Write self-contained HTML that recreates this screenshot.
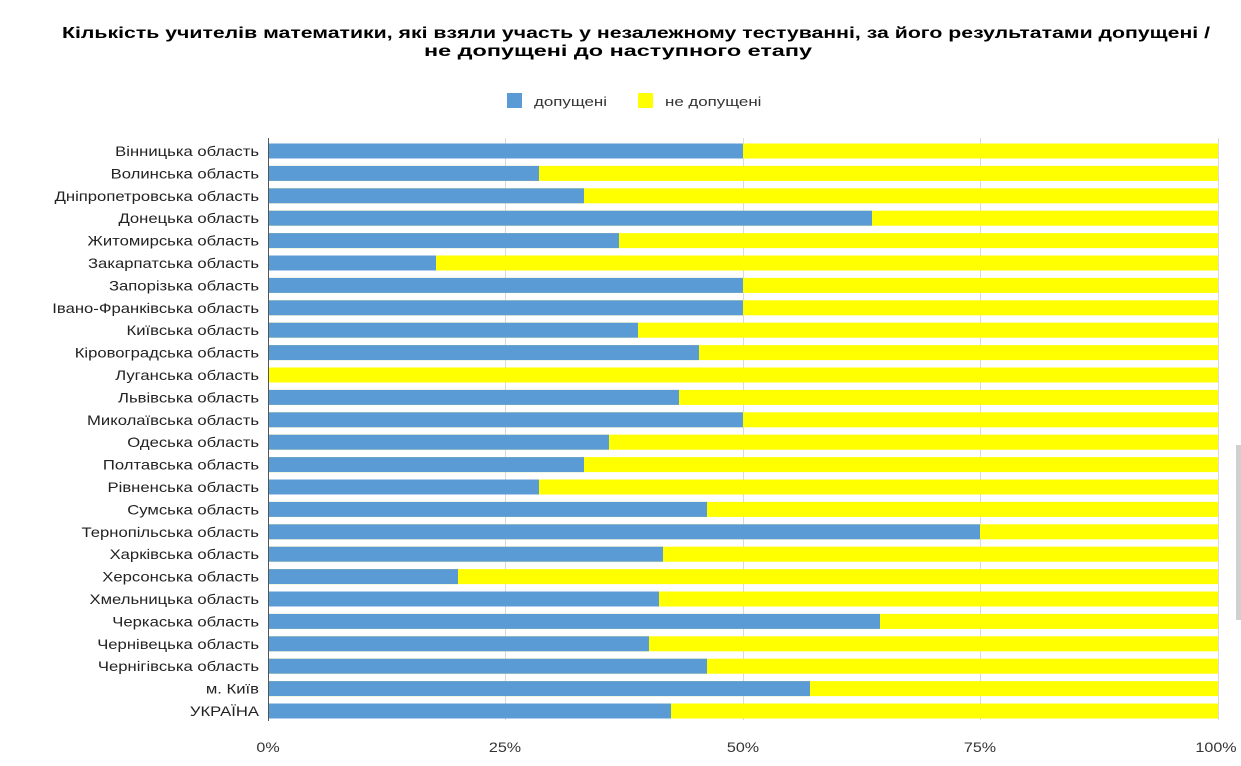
<!DOCTYPE html>
<html><head><meta charset="utf-8"><style>
html,body{margin:0;padding:0;background:#fff;}
svg{display:block;font-family:"Liberation Sans","DejaVu Sans",sans-serif;}
</style></head><body>
<svg width="1241" height="766" viewBox="0 0 1241 766" xmlns="http://www.w3.org/2000/svg">
<text x="636" y="38" text-anchor="middle" font-size="16" font-weight="bold" fill="#000" textLength="1148" lengthAdjust="spacingAndGlyphs">Кількість учителів математики, які взяли участь у незалежному тестуванні, за його результатами допущені /</text>
<text x="618" y="56" text-anchor="middle" font-size="16" font-weight="bold" fill="#000" textLength="388" lengthAdjust="spacingAndGlyphs">не допущені до наступного етапу</text>
<rect x="507" y="93" width="15" height="15" fill="#5b9bd5"/>
<g transform="translate(534,0) scale(1.3,1)"><text x="0" y="106" font-size="13" fill="#333">допущені</text></g>
<rect x="638" y="93" width="15" height="15" fill="#ffff00"/>
<g transform="translate(665,0) scale(1.3,1)"><text x="0" y="106" font-size="13" fill="#333">не допущені</text></g>
<g stroke="#d9d9d9" stroke-width="1">
<line x1="505.5" y1="138" x2="505.5" y2="720"/>
<line x1="743.5" y1="138" x2="743.5" y2="720"/>
<line x1="980.5" y1="138" x2="980.5" y2="720"/>
<line x1="1218.5" y1="138" x2="1218.5" y2="720"/>
</g>
<g fill="#ffff00">
<rect x="268" y="143.5" width="950" height="15"/><rect x="268" y="165.9" width="950" height="15"/><rect x="268" y="188.3" width="950" height="15"/><rect x="268" y="210.7" width="950" height="15"/><rect x="268" y="233.1" width="950" height="15"/><rect x="268" y="255.5" width="950" height="15"/><rect x="268" y="277.9" width="950" height="15"/><rect x="268" y="300.3" width="950" height="15"/><rect x="268" y="322.7" width="950" height="15"/><rect x="268" y="345.1" width="950" height="15"/><rect x="268" y="367.5" width="950" height="15"/><rect x="268" y="389.9" width="950" height="15"/><rect x="268" y="412.3" width="950" height="15"/><rect x="268" y="434.7" width="950" height="15"/><rect x="268" y="457.1" width="950" height="15"/><rect x="268" y="479.5" width="950" height="15"/><rect x="268" y="501.9" width="950" height="15"/><rect x="268" y="524.3" width="950" height="15"/><rect x="268" y="546.7" width="950" height="15"/><rect x="268" y="569.1" width="950" height="15"/><rect x="268" y="591.5" width="950" height="15"/><rect x="268" y="613.9" width="950" height="15"/><rect x="268" y="636.3" width="950" height="15"/><rect x="268" y="658.7" width="950" height="15"/><rect x="268" y="681.1" width="950" height="15"/><rect x="268" y="703.5" width="950" height="15"/>
</g>
<g fill="#5b9bd5">
<rect x="268" y="143.5" width="475" height="15"/><rect x="268" y="165.9" width="271" height="15"/><rect x="268" y="188.3" width="316" height="15"/><rect x="268" y="210.7" width="604" height="15"/><rect x="268" y="233.1" width="351" height="15"/><rect x="268" y="255.5" width="168" height="15"/><rect x="268" y="277.9" width="475" height="15"/><rect x="268" y="300.3" width="475" height="15"/><rect x="268" y="322.7" width="370" height="15"/><rect x="268" y="345.1" width="431" height="15"/><rect x="268" y="389.9" width="411" height="15"/><rect x="268" y="412.3" width="475" height="15"/><rect x="268" y="434.7" width="341" height="15"/><rect x="268" y="457.1" width="316" height="15"/><rect x="268" y="479.5" width="271" height="15"/><rect x="268" y="501.9" width="439" height="15"/><rect x="268" y="524.3" width="712" height="15"/><rect x="268" y="546.7" width="395" height="15"/><rect x="268" y="569.1" width="190" height="15"/><rect x="268" y="591.5" width="391" height="15"/><rect x="268" y="613.9" width="612" height="15"/><rect x="268" y="636.3" width="381" height="15"/><rect x="268" y="658.7" width="439" height="15"/><rect x="268" y="681.1" width="542" height="15"/><rect x="268" y="703.5" width="403" height="15"/>
</g>
<line x1="268.5" y1="138" x2="268.5" y2="721" stroke="#555" stroke-width="1"/>
<g transform="translate(259,0) scale(1.19,1)" font-size="14" fill="#222" text-anchor="end">
<text x="0" y="156">Вінницька область</text>
<text x="0" y="178.4">Волинська область</text>
<text x="0" y="200.8">Дніпропетровська область</text>
<text x="0" y="223.2">Донецька область</text>
<text x="0" y="245.6">Житомирська область</text>
<text x="0" y="268">Закарпатська область</text>
<text x="0" y="290.4">Запорізька область</text>
<text x="0" y="312.8">Івано-Франківська область</text>
<text x="0" y="335.2">Київська область</text>
<text x="0" y="357.6">Кіровоградська область</text>
<text x="0" y="380">Луганська область</text>
<text x="0" y="402.4">Львівська область</text>
<text x="0" y="424.8">Миколаївська область</text>
<text x="0" y="447.2">Одеська область</text>
<text x="0" y="469.6">Полтавська область</text>
<text x="0" y="492">Рівненська область</text>
<text x="0" y="514.4">Сумська область</text>
<text x="0" y="536.8">Тернопільська область</text>
<text x="0" y="559.2">Харківська область</text>
<text x="0" y="581.6">Херсонська область</text>
<text x="0" y="604">Хмельницька область</text>
<text x="0" y="626.4">Черкаська область</text>
<text x="0" y="648.8">Чернівецька область</text>
<text x="0" y="671.2">Чернігівська область</text>
<text x="0" y="693.6">м. Київ</text>
<text x="0" y="716">УКРАЇНА</text>
</g>
<g font-size="14" fill="#333" text-anchor="middle">
<g transform="translate(268,0) scale(1.15,1)"><text x="0" y="752">0%</text></g>
<g transform="translate(505,0) scale(1.15,1)"><text x="0" y="752">25%</text></g>
<g transform="translate(743,0) scale(1.15,1)"><text x="0" y="752">50%</text></g>
<g transform="translate(980,0) scale(1.15,1)"><text x="0" y="752">75%</text></g>
<g transform="translate(1216,0) scale(1.15,1)"><text x="0" y="752">100%</text></g>
</g>
<rect x="1236" y="445" width="5" height="175" fill="#d0d0d0"/>
</svg>
</body></html>
